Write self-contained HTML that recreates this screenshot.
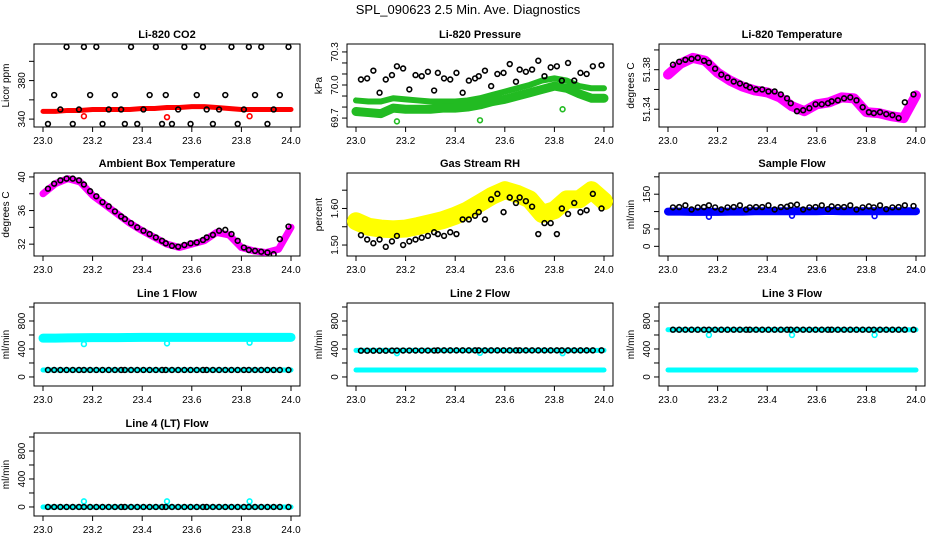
<!DOCTYPE html>
<html><head><meta charset="utf-8">
<style>
html,body{margin:0;padding:0;background:#fff;}
svg{display:block;font-family:"Liberation Sans",Arial,sans-serif;}
</style></head>
<body>
<svg id="chart" width="936" height="540" viewBox="0 0 936 540" xmlns="http://www.w3.org/2000/svg">
<text x="468" y="14" text-anchor="middle" font-size="13">SPL_090623  2.5 Min. Ave. Diagnostics</text>
</svg>
<script>
// ---------- data ----------
const xBand = [23.0,23.05,23.1,23.15,23.2,23.25,23.3,23.35,23.4,23.45,23.5,23.55,23.6,23.65,23.7,23.75,23.8,23.85,23.9,23.95,24.0];
const xPts = [23.02,23.045,23.07,23.095,23.12,23.145,23.165,23.19,23.215,23.24,23.265,23.29,23.315,23.33,23.355,23.38,23.405,23.43,23.455,23.48,23.495,23.52,23.545,23.57,23.595,23.62,23.645,23.66,23.685,23.71,23.735,23.76,23.785,23.81,23.83,23.855,23.88,23.905,23.93,23.955,23.99];
const xTicks = [23.0,23.2,23.4,23.6,23.8,24.0];
const xTickLabels = ["23.0","23.2","23.4","23.6","23.8","24.0"];

const co2Red = [348,348,349,349,350,350,350,350,351,351,352,352,353,353,352,351,350,350,350,350,350];
const co2Black = [335,365,350,415,335,350,415,365,415,335,350,365,350,335,415,335,350,365,415,335,365,335,350,415,335,365,415,350,335,350,365,415,335,350,415,365,415,335,350,365,415];
const presUpper = [69.86,69.85,69.85,69.88,69.87,69.86,69.85,69.85,69.85,69.86,69.88,69.91,69.94,69.97,70.00,70.04,70.06,70.04,69.99,69.97,69.97];
const presLower = [69.76,69.75,69.74,69.79,69.78,69.78,69.78,69.79,69.79,69.80,69.82,69.85,69.87,69.90,69.93,69.96,69.99,69.97,69.92,69.88,69.88];
const presBlack = [70.05,70.06,70.13,69.93,70.05,70.09,70.17,70.15,69.96,70.09,70.08,70.12,69.95,70.11,70.06,70.05,70.11,69.93,70.04,70.06,70.08,70.13,69.99,70.1,70.11,70.19,70.03,70.14,70.12,70.14,70.22,70.08,70.16,70.17,70.04,70.20,70.04,70.11,70.10,70.17,70.18];
const tempBand = [51.375,51.386,51.392,51.389,51.377,51.369,51.363,51.359,51.357,51.352,51.343,51.338,51.345,51.347,51.352,51.351,51.337,51.336,51.333,51.331,51.354];
const tempBlack = [51.385,51.388,51.390,51.391,51.392,51.389,51.387,51.381,51.375,51.372,51.368,51.366,51.364,51.362,51.360,51.360,51.358,51.358,51.355,51.351,51.346,51.338,51.339,51.341,51.345,51.345,51.346,51.348,51.349,51.351,51.352,51.349,51.342,51.337,51.336,51.337,51.335,51.334,51.331,51.347,51.355];
const ambBand = [38.0,39.2,39.8,39.4,37.8,36.7,35.6,34.5,33.6,32.8,32.0,31.6,32.0,32.4,33.4,33.1,31.6,31.2,31.0,31.4,34.0];
const ambBlack = [38.6,39.2,39.6,39.8,39.8,39.6,39.1,38.3,37.7,37.0,36.5,35.9,35.3,35.0,34.5,34.0,33.6,33.2,32.8,32.4,32.1,31.8,31.7,31.9,32.1,32.2,32.5,32.8,33.1,33.6,33.7,33.2,32.4,31.6,31.3,31.2,31.1,31.0,30.8,32.6,34.1];
const rhBand = [1.565,1.550,1.545,1.543,1.545,1.552,1.560,1.568,1.580,1.595,1.615,1.635,1.650,1.640,1.625,1.585,1.595,1.625,1.625,1.650,1.620];
const rhBlack = [1.527,1.515,1.505,1.515,1.495,1.510,1.525,1.500,1.510,1.515,1.520,1.525,1.535,1.530,1.525,1.535,1.530,1.570,1.570,1.580,1.590,1.570,1.625,1.640,1.590,1.630,1.615,1.630,1.620,1.605,1.530,1.560,1.560,1.530,1.600,1.585,1.615,1.590,1.595,1.640,1.600];
const sampBand = [100,100,99,99,99,100,100,101,101,101,101,101,101,102,101,101,101,101,101,101,101];
const sampBlack = [112,113,118,106,112,113,118,112,106,112,113,118,106,112,113,113,118,106,113,114,118,120,106,112,113,118,107,115,113,113,118,106,112,115,112,118,107,112,113,118,116];
const l1Band = [555,555,558,560,562,563,563,564,566,566,566,566,566,566,566,566,566,566,566,566,566];
const l1Low = [100,100,100,100,100,100,100,100,100,100,100,100,100,100,100,100,100,100,100,100,100];
const l1Black = [100,100,100,100,100,100,100,100,100,100,100,100,100,100,100,100,100,100,100,100,100,100,100,100,100,100,100,100,100,100,100,100,100,100,100,100,100,100,100,100,100];
const l2Band = [100,100,100,100,100,100,100,100,100,100,100,100,100,100,100,100,100,100,100,100,100];
const l2Top = [380,380,380,380,380,380,380,380,380,380,380,380,380,380,380,380,380,380,380,380,380];
const l2Black = [375,375,375,375,375,377,378,378,378,378,378,378,378,380,380,380,380,380,380,380,380,380,380,380,380,380,380,380,380,380,380,380,380,380,380,380,380,380,380,380,380];
const l3Band = [100,100,100,100,100,100,100,100,100,100,100,100,100,100,100,100,100,100,100,100,100];
const l3Top = [675,675,675,675,675,675,675,675,675,675,675,675,675,675,675,675,675,675,675,675,675];
const l3Black = [675,675,675,675,675,675,675,675,675,675,675,675,675,675,675,675,675,675,675,675,675,675,675,675,675,675,675,675,675,675,675,675,675,675,675,675,675,675,675,675,675];
const l4Band = [0,0,0,0,0,0,0,0,0,0,0,0,0,0,0,0,0,0,0,0,0];
const l4Black = [0,0,0,0,0,0,0,0,0,0,0,0,0,0,0,0,0,0,0,0,0,0,0,0,0,0,0,0,0,0,0,0,0,0,0,0,0,0,0,0,0];
const outX = [23.165,23.5,23.833];
const co2Out = [343,342,343];
const presOut = [69.67,69.68,69.78];
const sampOut = [85,88,87];
const l1Out = [470,480,490];
const l2Out = [340,345,340];
const l3Out = [600,600,600];
const l4Out = [80,80,80];

// ---------- layout ----------
const NS = "http://www.w3.org/2000/svg";
const svg = document.getElementById('chart');
const colL = [34,347,659], rowT = [44,173,303,433], BW = 266, BH = 83;
const xLo = 22.9637, xHi = 24.0363;

function mk(tag, attrs, parent){
  const e = document.createElementNS(NS, tag);
  for (const k in attrs) e.setAttribute(k, attrs[k]);
  (parent||svg).appendChild(e);
  return e;
}

function panel(col,row,title,ytitle,yLo,yHi,yTicks,yLabels,slug){
  const L = colL[col], T = rowT[row];
  const g = mk('g',{});
  
  
  const sx = v => L + (v - xLo)/(xHi - xLo)*BW;
  const sy = v => T + BH - (v - yLo)/(yHi - yLo)*BH;
  const r = mk('rect',{x:L,y:T,width:BW,height:BH,fill:'none',stroke:'#000','stroke-width':1},g);
  
  
  const t = mk('text',{x:L+BW/2,y:T-6,'text-anchor':'middle','font-size':11,'font-weight':'bold'},g);
  t.textContent = title;
  
  
  xTicks.forEach((v,i)=>{
    const x = sx(v);
    mk('line',{x1:x,x2:x,y1:T+BH,y2:T+BH+5,stroke:'#000'},g);
    const tx = mk('text',{x:x,y:T+BH+17,'text-anchor':'middle','font-size':10},g);
    tx.textContent = xTickLabels[i];
    
    
  });
  yTicks.forEach((v,i)=>{
    const y = sy(v);
    mk('line',{x1:L-5,x2:L,y1:y,y2:y,stroke:'#000'},g);
    if (yLabels[i]) {
      const ty = mk('text',{x:L-9,y:y,'text-anchor':'middle','font-size':10,transform:`rotate(-90 ${L-9} ${y})`},g);
      ty.textContent = yLabels[i];
      
      
    }
  });
  const yt = mk('text',{x:L-25,y:T+BH/2,'text-anchor':'middle','font-size':10,transform:`rotate(-90 ${L-25} ${T+BH/2})`},g);
  yt.textContent = ytitle;
  
  
  const cg = mk('g',{'clip-path':`url(#clip-${slug})`},g);
  const cp = mk('clipPath',{id:'clip-'+slug},g);
  mk('rect',{x:L,y:T,width:BW,height:BH},cp);
  return {
    band(xs,ys,color,w,name){
      const p = mk('polyline',{points:xs.map((x,i)=>sx(x)+','+sy(ys[i])).join(' '),fill:'none',stroke:color,'stroke-width':w,'stroke-linejoin':'round','stroke-linecap':'round'},cg);
      
      
    },
    pts(xs,ys,color,name){
      xs.forEach((x,i)=>{
        const c = mk('circle',{cx:sx(x),cy:sy(ys[i]),r:2.4,fill:'none',stroke:color,'stroke-width':1.6},cg);
        
        
      });
    }
  };
}

let p;
p = panel(0,0,'Li-820 CO2','Licor ppm',331.8,418,[340,360,380,400],['340','','380',''],'co2');
p.band(xBand,co2Red,'#ff0000',5,'co2-band'); p.pts(outX,co2Out,'#ff0000','co2-outlier'); p.pts(xPts,co2Black,'#000','co2-point');

p = panel(1,0,'Li-820 Pressure','kPa',69.619,70.372,[69.7,69.8,69.9,70.0,70.1,70.2,70.3],['69.7','','','70.0','','','70.3'],'pressure');
p.band(xBand,presUpper,'#22bb22',6,'pressure-upper-band'); p.band(xBand,presLower,'#22bb22',9,'pressure-lower-band');
p.pts(outX,presOut,'#22bb22','pressure-outlier'); p.pts(xPts,presBlack,'#000','pressure-point');

p = panel(2,0,'Li-820 Temperature','degrees C',51.322,51.406,[51.34,51.36,51.38,51.40],['51.34','','51.38',''],'li-temp');
p.band(xBand,tempBand,'#ff00ff',10,'li-temp-band'); p.pts(xPts,tempBlack,'#000','li-temp-point');

p = panel(0,1,'Ambient Box Temperature','degrees C',30.59,40.47,[32,34,36,38,40],['32','','36','','40'],'ambient');
p.band(xBand,ambBand,'#ff00ff',7,'ambient-band'); p.pts(xPts,ambBlack,'#000','ambient-point');

p = panel(1,1,'Gas Stream RH','percent',1.470,1.697,[1.50,1.55,1.60,1.65],['1.50','','1.60',''],'rh');
p.band(xBand,rhBand,'#ffff00',18,'rh-band'); p.pts(xPts,rhBlack,'#000','rh-point');

p = panel(2,1,'Sample Flow','ml/min',-27.8,211,[0,50,100,150,200],['0','50','','150',''],'sample-flow');
p.band(xBand,sampBand,'#0000ff',8,'sample-flow-band'); p.pts(outX,sampOut,'#0000ff','sample-flow-outlier'); p.pts(xPts,sampBlack,'#000','sample-flow-point');

const fT = [0,200,400,600,800,1000], fL = ['0','','400','','800',''];
p = panel(0,2,'Line 1 Flow','ml/min',-129,1057,fT,fL,'line1');
p.band(xBand,l1Band,'#00ffff',9,'line1-band'); p.band(xBand,l1Low,'#00ffff',5,'line1-low-band');
p.pts(outX,l1Out,'#00ffff','line1-outlier'); p.pts(xPts,l1Black,'#000','line1-point');

p = panel(1,2,'Line 2 Flow','ml/min',-129,1057,fT,fL,'line2');
p.band(xBand,l2Band,'#00ffff',5,'line2-band'); p.band(xBand,l2Top,'#00ffff',5,'line2-top-band');
p.pts(outX,l2Out,'#00ffff','line2-outlier'); p.pts(xPts,l2Black,'#000','line2-point');

p = panel(2,2,'Line 3 Flow','ml/min',-129,1057,fT,fL,'line3');
p.band(xBand,l3Band,'#00ffff',5,'line3-band'); p.band(xBand,l3Top,'#00ffff',5,'line3-top-band');
p.pts(outX,l3Out,'#00ffff','line3-outlier'); p.pts(xPts,l3Black,'#000','line3-point');

p = panel(0,3,'Line 4 (LT) Flow','ml/min',-129,1057,fT,fL,'line4');
p.band(xBand,l4Band,'#00ffff',5,'line4-band'); p.pts(outX,l4Out,'#00ffff','line4-outlier'); p.pts(xPts,l4Black,'#000','line4-point');
</script>
</body></html>
